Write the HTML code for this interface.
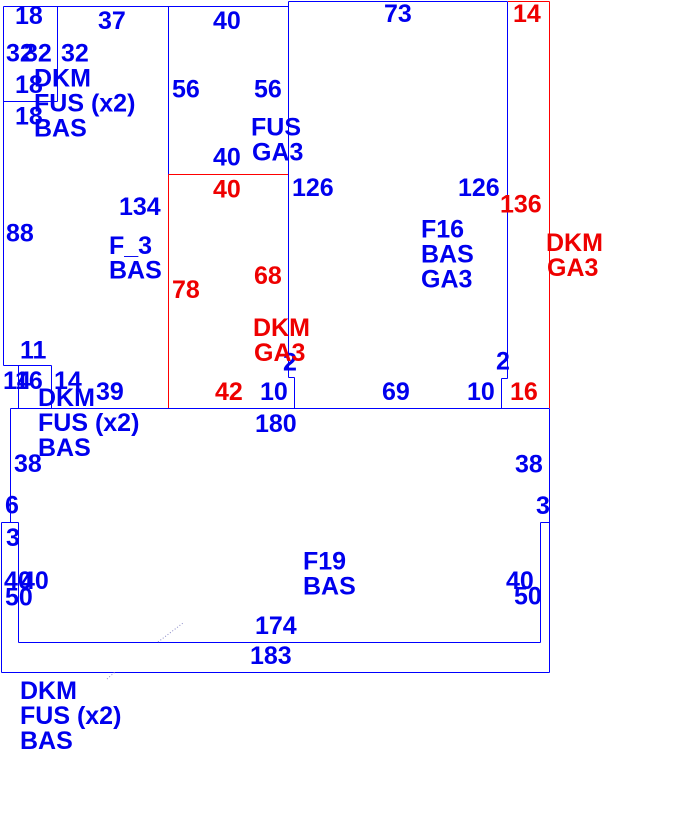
<!DOCTYPE html>
<html>
<head>
<meta charset="utf-8">
<style>
  html, body { margin: 0; padding: 0; background: #ffffff; }
  body { width: 689px; height: 817px; overflow: hidden; }
  svg { display: block; }
  text { font-family: "Liberation Sans", Arial, sans-serif; font-weight: bold; font-size: 25px; }
  .b { fill: #0000ee; }
  .r { fill: #ee0000; }
</style>
</head>
<body>
<svg width="689" height="817" viewBox="0 0 689 817" xmlns="http://www.w3.org/2000/svg">
  <g fill="none" stroke-width="1.2" shape-rendering="crispEdges">
    <g stroke="#0000ff">
      <line x1="3.5" y1="6.5" x2="288.5" y2="6.5"/>
      <line x1="3.5" y1="6.5" x2="3.5" y2="365.5"/>
      <line x1="3.5" y1="365.5" x2="51.5" y2="365.5"/>
      <line x1="18.5" y1="365.5" x2="18.5" y2="408.5"/>
      <line x1="51.5" y1="365.5" x2="51.5" y2="408.5"/>
      <line x1="57.5" y1="6.5" x2="57.5" y2="101.5"/>
      <line x1="3.5" y1="101.5" x2="57.5" y2="101.5"/>
      <line x1="168.5" y1="6.5" x2="168.5" y2="174.5"/>
      <line x1="288.5" y1="1.5" x2="288.5" y2="377.5"/>
      <line x1="288.5" y1="377.5" x2="294.5" y2="377.5"/>
      <line x1="294.5" y1="377.5" x2="294.5" y2="408.5"/>
      <line x1="288.5" y1="1.5" x2="507.5" y2="1.5"/>
      <line x1="507.5" y1="1.5" x2="507.5" y2="378.5"/>
      <line x1="501.5" y1="378.5" x2="507.5" y2="378.5"/>
      <line x1="501.5" y1="378.5" x2="501.5" y2="408.5"/>
      <line x1="10.5" y1="408.5" x2="549.5" y2="408.5"/>
      <line x1="10.5" y1="408.5" x2="10.5" y2="522.5"/>
      <line x1="1.5" y1="522.5" x2="18.5" y2="522.5"/>
      <line x1="1.5" y1="522.5" x2="1.5" y2="672.5"/>
      <line x1="1.5" y1="672.5" x2="549.5" y2="672.5"/>
      <line x1="549.5" y1="408.5" x2="549.5" y2="672.5"/>
      <line x1="18.5" y1="522.5" x2="18.5" y2="642.5"/>
      <line x1="18.5" y1="642.5" x2="540.5" y2="642.5"/>
      <line x1="540.5" y1="522.5" x2="540.5" y2="642.5"/>
      <line x1="540.5" y1="522.5" x2="549.5" y2="522.5"/>
    </g>
    <g stroke="#ff0000">
      <line x1="168.5" y1="174.5" x2="168.5" y2="408"/>
      <line x1="168.5" y1="174.5" x2="288" y2="174.5"/>
      <line x1="508" y1="1.5" x2="549.5" y2="1.5"/>
      <line x1="549.5" y1="1.5" x2="549.5" y2="408"/>
    </g>
  </g>
  <g stroke="#8a8ac8" stroke-width="1" stroke-dasharray="1 2" fill="none">
    <line x1="158" y1="642" x2="183" y2="623"/>
    <line x1="107" y1="679" x2="115" y2="672"/>
  </g>

  <g class="b">
    <text x="15" y="24">18</text>
    <text x="98" y="29">37</text>
    <text x="6" y="61.5">32</text>
    <text x="24" y="61.5">32</text>
    <text x="61" y="61.5">32</text>
    <text x="15" y="93">18</text>
    <text x="34" y="86.5">DKM</text>
    <text x="34" y="111.5">FUS (x2)</text>
    <text x="34" y="136.5">BAS</text>
    <text x="15" y="124.5">18</text>

    <text x="213" y="29">40</text>
    <text x="172" y="97.5">56</text>
    <text x="254" y="97.5">56</text>
    <text x="251" y="135.5">FUS</text>
    <text x="252" y="160.5">GA3</text>
    <text x="213" y="165.5">40</text>

    <text x="384" y="22">73</text>
    <text x="292" y="196">126</text>
    <text x="458" y="196">126</text>
    <text x="421" y="237.5">F16</text>
    <text x="421" y="262.5">BAS</text>
    <text x="421" y="287.5">GA3</text>

    <text x="119" y="215">134</text>
    <text x="6" y="241.5">88</text>
    <text x="109" y="254">F_3</text>
    <text x="109" y="278.5">BAS</text>

    <text x="20" y="358.5">11</text>
    <text x="283" y="370.5">2</text>
    <text x="496" y="369.5">2</text>
    <text x="260" y="400">10</text>
    <text x="382" y="400">69</text>
    <text x="467" y="400">10</text>

    <text x="3" y="389">14</text>
    <text x="15" y="389">16</text>
    <text x="54" y="389">14</text>
    <text x="38" y="406">DKM</text>
    <text x="38" y="431">FUS (x2)</text>
    <text x="38" y="456">BAS</text>
    <text x="96" y="400">39</text>
    <text x="255" y="432">180</text>

    <text x="14" y="472">38</text>
    <text x="515" y="472.5">38</text>
    <text x="5" y="513.5">6</text>
    <text x="6" y="546">3</text>
    <text x="536" y="514">3</text>
    <text x="4" y="589">40</text>
    <text x="21" y="589">40</text>
    <text x="5" y="605.5">50</text>
    <text x="506" y="589">40</text>
    <text x="514" y="604.5">50</text>

    <text x="303" y="569.5">F19</text>
    <text x="303" y="594.5">BAS</text>
    <text x="255" y="634">174</text>
    <text x="250" y="664">183</text>

    <text x="20" y="699">DKM</text>
    <text x="20" y="724">FUS (x2)</text>
    <text x="20" y="749">BAS</text>
  </g>

  <g class="r">
    <text x="513" y="22">14</text>
    <text x="213" y="197.5">40</text>
    <text x="500" y="212.5">136</text>
    <text x="546" y="251">DKM</text>
    <text x="547" y="276">GA3</text>
    <text x="172" y="298">78</text>
    <text x="254" y="284">68</text>
    <text x="253" y="336">DKM</text>
    <text x="254" y="361">GA3</text>
    <text x="215" y="400">42</text>
    <text x="510" y="400">16</text>
  </g>
</svg>
</body>
</html>
